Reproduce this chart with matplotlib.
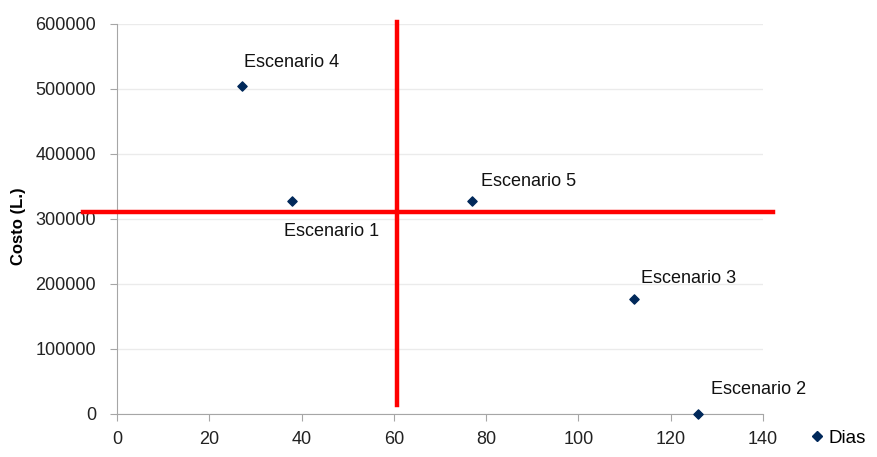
#!/usr/bin/env python3

'''Scatter of cost vs. days for five scenarios, split into quadrants.'''

import matplotlib as mpl
mpl.use('Agg')
import matplotlib.pyplot as plt
from matplotlib.lines import Line2D

# data
dias = [27, 126, 112, 38, 77]
costo = [504000, 0, 177000, 328000, 328000]
nombres = ['Escenario 4', 'Escenario 2', 'Escenario 3', 'Escenario 1',
           'Escenario 5']
x_ticks = [0, 20, 40, 60, 80, 100, 120, 140]
y_ticks = [0, 100000, 200000, 300000, 400000, 500000, 600000]

# quadrant dividers (drawn by hand in the original)
corte_x = 60.6
corte_y = 310000

# label offsets in pixels, same order as nombres
offsets = [(2, 24), (13, 24), (7, 20), (-8, -31), (9, 19)]


def main():
    plt.rcParams['font.family'] = ['Liberation Sans', 'DejaVu Sans']
    fig = plt.figure(figsize=(8.77, 4.57), dpi=100)
    ax = fig.add_axes([0.1334, 0.0941, 0.7366, 0.8534])

    gris = '#a6a6a6'
    azul = '#00285a'

    ax.set_xlim(0, 140)
    ax.set_ylim(0, 600000)
    ax.set_xticks(x_ticks)
    ax.set_yticks(y_ticks)
    ax.ticklabel_format(style='plain', useOffset=False)
    ax.yaxis.grid(True, color='#ebebeb', lw=1)
    ax.set_axisbelow(True)
    for s in ['top', 'right']:
        ax.spines[s].set_visible(False)
    for s in ['left', 'bottom']:
        ax.spines[s].set_color(gris)
    ax.tick_params(axis='both', direction='out', length=5, color=gris,
                   labelsize=13, labelcolor='#222222', pad=7)
    ax.tick_params(axis='y', pad=10)

    ax.scatter(dias, costo, marker='D', s=22, color=azul, zorder=3,
               clip_on=False)
    for x, y, n, (dx, dy) in zip(dias, costo, nombres, offsets):
        ax.annotate(n, (x, y), xytext=(dx, dy), textcoords='offset pixels',
                    ha='left', va='center', fontsize=13, color='#111111')

    ax.plot([corte_x, corte_x], [14000, 603000], color='#ff0000', lw=3.2,
            clip_on=False, zorder=4)
    ax.plot([-7.4, 142.2], [corte_y, corte_y], color='#ff0000', lw=3.2,
            clip_on=False, zorder=4)

    ax.set_ylabel('Costo (L.)', fontsize=12, fontweight='bold')
    ax.yaxis.set_label_coords(-0.141, 0.482)

    h = Line2D([], [], marker='D', ls='None', color=azul, markersize=5)
    fig.legend([h], ['Dias'], loc='center left', frameon=False,
               bbox_to_anchor=(804 / 877, 1 - 438 / 457), fontsize=13.5,
               handlelength=0.6, handletextpad=0.3, borderaxespad=0)

    fig.savefig('out.png', dpi=100)
    plt.close()


if __name__ == '__main__':
    main()
